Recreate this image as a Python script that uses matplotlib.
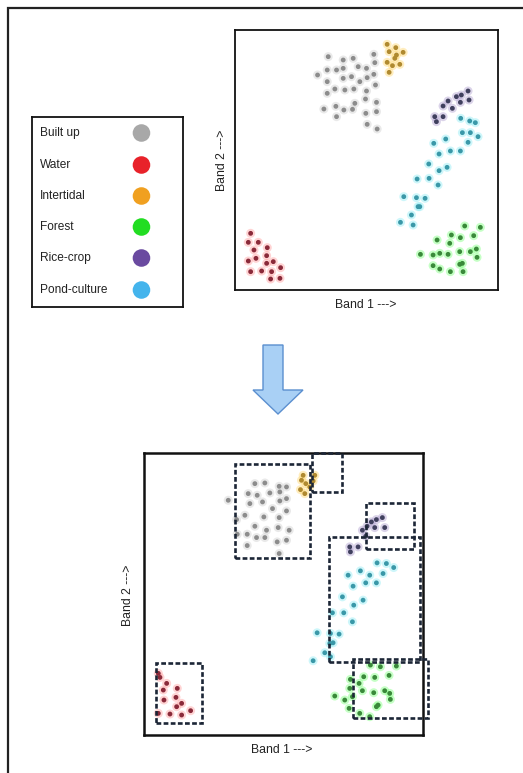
import matplotlib
matplotlib.use("Agg")
import matplotlib.pyplot as plt
from matplotlib.patches import Rectangle, Polygon
import numpy as np

plt.rcParams['font.family'] = ['Liberation Sans', 'DejaVu Sans']

W, H = 523, 773

# ---------------- data (Band 1, Band 2 values) ----------------
classes = ["Built up", "Water", "Intertidal", "Forest", "Rice-crop", "Pond-culture"]
legend_colors = ["#a8a8a8", "#e8222a", "#f0a020", "#22dd22", "#6a4aa0", "#44b4ec"]
core_colors = ["#8c8c8c", "#8a2a3a", "#b08a30", "#3a8a3a", "#40405e", "#3a98a8"]
halo_colors = ["#d0d0d0", "#ffa0a0", "#ffd870", "#80ff80", "#b0a0d0", "#90ecf4"]

# top panel
top_builtup_b1 = [295, 340, 370, 432, 435, 263, 292, 320, 340, 385, 410, 432, 292, 340, 365, 390, 412, 292, 315, 345, 372, 410, 437, 282, 318, 342, 368, 375, 407, 440, 320, 408, 440, 412, 442]
top_builtup_b2 = [705, 695, 700, 712, 687, 650, 665, 665, 670, 675, 670, 652, 630, 640, 645, 630, 642, 595, 608, 605, 608, 602, 620, 548, 556, 545, 547, 565, 578, 568, 525, 535, 540, 502, 488]
top_water_b1 = [62, 55, 85, 112, 72, 55, 78, 110, 110, 130, 62, 95, 125, 152, 122, 150]
top_water_b2 = [175, 148, 148, 132, 125, 92, 100, 108, 85, 90, 60, 62, 60, 72, 38, 40]
top_inter_b1 = [472, 498, 478, 520, 495, 472, 488, 510, 478, 500]
top_inter_b2 = [742, 732, 720, 718, 700, 688, 678, 682, 658, 710]
top_forest_b1 = [705, 752, 665, 692, 732, 622, 660, 572, 610, 630, 655, 690, 722, 740, 742, 690, 698, 610, 630, 662, 700]
top_forest_b2 = [197, 193, 170, 162, 168, 155, 145, 112, 110, 115, 112, 120, 120, 128, 103, 82, 85, 78, 68, 60, 60]
top_rice_b1 = [715, 695, 680, 655, 640, 668, 692, 718, 615, 640, 620]
top_rice_b2 = [602, 590, 585, 572, 557, 550, 568, 575, 525, 525, 510]
top_pond_b1 = [693, 720, 737, 698, 722, 745, 715, 612, 648, 662, 692, 628, 597, 628, 652, 625, 562, 598, 522, 560, 586, 565, 570, 545, 512, 550]
top_pond_b2 = [520, 512, 507, 477, 477, 465, 448, 445, 458, 422, 422, 413, 383, 363, 373, 320, 338, 340, 285, 282, 280, 255, 255, 230, 208, 200]

# bottom panel
bot_builtup_b1 = [345, 375, 418, 440, 325, 352, 390, 420, 265, 330, 368, 420, 440, 398, 440, 315, 372, 418, 345, 380, 415, 448, 292, 322, 350, 375, 412, 440, 322, 418, 290]
bot_builtup_b2 = [770, 772, 762, 760, 740, 735, 742, 745, 720, 710, 715, 718, 725, 695, 688, 675, 670, 668, 642, 630, 638, 630, 618, 618, 608, 608, 595, 600, 584, 560, 662]
bot_water_b1 = [55, 60, 80, 70, 112, 72, 108, 125, 110, 152, 90, 125, 55]
bot_water_b2 = [200, 188, 170, 150, 155, 120, 128, 110, 100, 88, 78, 75, 80]
bot_inter_b1 = [490, 485, 498, 482, 495, 525, 520, 510]
bot_inter_b2 = [795, 780, 770, 752, 740, 795, 778, 760]
bot_forest_b1 = [692, 722, 770, 748, 632, 672, 705, 658, 630, 638, 668, 702, 735, 750, 752, 585, 615, 710, 715, 628, 660, 690]
bot_forest_b2 = [225, 220, 222, 194, 182, 190, 188, 170, 155, 130, 148, 142, 148, 140, 122, 132, 120, 100, 105, 95, 80, 70]
bot_rice_b1 = [728, 710, 695, 682, 705, 735, 668, 678, 655, 630, 632]
bot_rice_b2 = [668, 662, 655, 642, 638, 638, 630, 612, 580, 580, 565]
bot_pond_b1 = [712, 740, 762, 662, 625, 690, 730, 640, 678, 710, 608, 642, 670, 578, 612, 638, 532, 572, 598, 570, 580, 555, 520, 572]
bot_pond_b2 = [532, 530, 518, 508, 495, 495, 500, 462, 472, 472, 430, 405, 420, 382, 382, 355, 322, 320, 318, 290, 292, 262, 238, 250]

# dashed cluster boxes on the bottom panel: (b1_min, b2_min, b1_max, b2_max)
box_b1_min = [285, 48, 518, 640, 678, 568]
box_b2_min = [548, 50, 745, 65, 575, 235]
box_b1_max = [510, 185, 608, 865, 822, 840]
box_b2_max = [828, 230, 862, 242, 712, 610]

# ---------------- figure ----------------
fig = plt.figure(figsize=(W / 100, H / 100), dpi=100)


def px_ax(x0, y0, x1, y1):
    return fig.add_axes([x0 / W, 1 - y1 / H, (x1 - x0) / W, (y1 - y0) / H])


def scatter_cluster(ax, b1, b2, i, core=12, halo=42):
    ax.scatter(b1, b2, s=halo, c=halo_colors[i], alpha=0.45, edgecolors='none', zorder=2)
    ax.scatter(b1, b2, s=core, c=core_colors[i], edgecolors='none', zorder=3)


# outer frame (only left and top edges lie inside the image)
frame = Rectangle((8 / W, -0.1), 1.2, (1 - 8 / H) + 0.1, transform=fig.transFigure,
                  fill=False, edgecolor='#222222', linewidth=1.6)
fig.patches.append(frame)

# top panel
ax1 = px_ax(235, 30, 498, 290)
top_sets = [(top_builtup_b1, top_builtup_b2), (top_water_b1, top_water_b2),
            (top_inter_b1, top_inter_b2), (top_forest_b1, top_forest_b2),
            (top_rice_b1, top_rice_b2), (top_pond_b1, top_pond_b2)]
for i, (b1, b2) in enumerate(top_sets):
    scatter_cluster(ax1, b1, b2, i)
ax1.set_xlim(15, 805)
ax1.set_ylim(5, 785)
ax1.set_xticks([])
ax1.set_yticks([])
for s in ax1.spines.values():
    s.set_linewidth(1.3)
    s.set_color('#111111')

fig.text(366 / W, 1 - 305 / H, "Band 1 --->", ha='center', va='center', fontsize=8.8, color='#222222')
fig.text(222 / W, 1 - 160 / H, "Band 2 --->", ha='center', va='center', fontsize=8.8,
         rotation=90, color='#222222')

# legend box
axl = px_ax(32, 117, 183, 307)
axl.set_xlim(0, 1)
axl.set_ylim(0, 1)
axl.set_xticks([])
axl.set_yticks([])
for s in axl.spines.values():
    s.set_linewidth(1.3)
    s.set_color('#111111')
row_px = [133, 165, 196, 227, 258, 290]
for i, lab in enumerate(classes):
    yy = 1 - (row_px[i] - 117) / 190
    axl.text(0.05, yy, lab, ha='left', va='center', fontsize=8.6, color='#222222')
    axl.scatter([0.725], [yy], s=160, c=legend_colors[i], edgecolors='none')

# arrow
arrow_pts = [(263, 345), (283, 345), (283, 390), (303, 390), (278, 414), (253, 390), (263, 390)]
arrow = Polygon([(x / W, 1 - y / H) for x, y in arrow_pts], closed=True,
                transform=fig.transFigure, facecolor='#a9d0f5', edgecolor='#5b8fcf', linewidth=1.0)
fig.patches.append(arrow)

# bottom panel
ax2 = px_ax(144, 453, 423, 735)
bot_sets = [(bot_builtup_b1, bot_builtup_b2), (bot_water_b1, bot_water_b2),
            (bot_inter_b1, bot_inter_b2), (bot_forest_b1, bot_forest_b2),
            (bot_rice_b1, bot_rice_b2), (bot_pond_b1, bot_pond_b2)]
for i, (b1, b2) in enumerate(bot_sets):
    scatter_cluster(ax2, b1, b2, i)
ax2.set_xlim(12, 850)
ax2.set_ylim(15, 862)
ax2.set_xticks([])
ax2.set_yticks([])
for s in ax2.spines.values():
    s.set_linewidth(1.8)
    s.set_color('#111111')
for x0, y0, x1, y1 in zip(box_b1_min, box_b2_min, box_b1_max, box_b2_max):
    r = Rectangle((x0, y0), x1 - x0, y1 - y0, fill=False, edgecolor='#1c2636',
                  linewidth=1.9, linestyle=(0, (1.8, 0.9)), clip_on=False, zorder=4)
    ax2.add_patch(r)

fig.text(282 / W, 1 - 750 / H, "Band 1 --->", ha='center', va='center', fontsize=8.8, color='#222222')
fig.text(128 / W, 1 - 595 / H, "Band 2 --->", ha='center', va='center', fontsize=8.8,
         rotation=90, color='#222222')

fig.savefig("out.png", dpi=100)
